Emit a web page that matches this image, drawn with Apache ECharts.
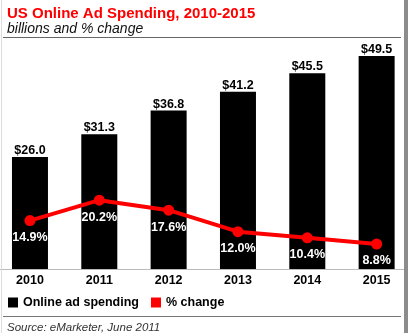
<!DOCTYPE html>
<html>
<head>
<meta charset="utf-8">
<script src="https://cdn.jsdelivr.net/npm/echarts@6/dist/echarts.min.js"></script>
<style>
  html, body { margin: 0; padding: 0; background: #fff; overflow: hidden; width: 408px; height: 333px; }
  /* canvas is 10px wider than the page so the outer bars can sit flush with the edges */
  #chart { position: absolute; left: -5px; top: 0; width: 418px; height: 333px; }
</style>
</head>
<body>
<div id="chart"></div>
<script>
// US online ad spending (billions) and year-over-year % change
const years = ['2010', '2011', '2012', '2013', '2014', '2015'];
const spending = [26.0, 31.3, 36.8, 41.2, 45.5, 49.5];
const pctChange = [14.9, 20.2, 17.6, 12.0, 10.4, 8.8];

const FONT = '"Liberation Sans", Arial, sans-serif';
const RED = '#ff0000';
const DX = 5; // horizontal shift of the canvas relative to the page

const chart = echarts.init(document.getElementById('chart'), null, { renderer: 'canvas' });

chart.setOption({
  animation: false,
  backgroundColor: '#fff',
  title: [
    {
      text: 'US Online Ad Spending, 2010-2015',
      left: 2 + DX, top: 1,
      textStyle: { color: RED, fontFamily: FONT, fontWeight: 'bold', fontSize: 15 }
    },
    {
      text: 'billions and % change',
      left: 2 + DX, top: 17,
      textStyle: { color: '#111', fontFamily: FONT, fontStyle: 'italic', fontWeight: 'normal', fontSize: 14 }
    },
    {
      text: 'Source: eMarketer, June 2011',
      left: 2 + DX, top: 317,
      textStyle: { color: '#333', fontFamily: FONT, fontStyle: 'italic', fontWeight: 'normal', fontSize: 11.5 }
    }
  ],
  legend: {
    left: 3 + DX, top: 291,
    itemWidth: 10, itemHeight: 10, itemGap: 12,
    icon: 'rect',
    textStyle: { color: '#000', fontFamily: FONT, fontWeight: 'bold', fontSize: 12.5 },
    data: ['Online ad spending', '% change']
  },
  grid: { left: 0.3, right: 1.7, top: 45.2, bottom: 64, containLabel: false },
  xAxis: {
    type: 'category',
    data: years,
    axisLine: { show: true, lineStyle: { color: '#bbb', width: 1 } },
    axisTick: { show: false },
    axisLabel: { color: '#000', fontFamily: FONT, fontWeight: 'bold', fontSize: 12.5, margin: 5 }
  },
  yAxis: [
    { type: 'value', min: 0, max: 52, show: false, splitLine: { show: false } },
    { type: 'value', min: 2.3, max: 60.5, show: false, splitLine: { show: false } }
  ],
  series: [
    {
      name: 'Online ad spending',
      type: 'bar',
      data: spending,
      barWidth: 36,
      itemStyle: { color: '#000' },
      label: {
        show: true, position: 'top', distance: 0,
        color: '#000', fontFamily: FONT, fontWeight: 'bold', fontSize: 12.5,
        formatter: p => '$' + p.value.toFixed(1)
      }
    },
    {
      name: '% change',
      type: 'line',
      yAxisIndex: 1,
      data: pctChange,
      symbol: 'circle', symbolSize: 11,
      lineStyle: { color: RED, width: 4 },
      itemStyle: { color: RED },
      label: {
        show: true, position: 'bottom', distance: 5,
        color: '#fff', fontFamily: FONT, fontWeight: 'bold', fontSize: 12.5,
        formatter: p => p.value.toFixed(1) + '%'
      },
      z: 5
    }
  ],
  graphic: [
    // rule under the subtitle
    { type: 'line', shape: { x1: 3 + DX, y1: 37.5, x2: 401 + DX, y2: 37.5 }, style: { stroke: '#666', lineWidth: 1 } },
    // rule above the source note
    { type: 'line', shape: { x1: 3 + DX, y1: 316.5, x2: 401 + DX, y2: 316.5 }, style: { stroke: '#777', lineWidth: 1 } },
    // frame edges
    { type: 'line', shape: { x1: 1.5 + DX, y1: 0, x2: 1.5 + DX, y2: 333 }, style: { stroke: '#ddd', lineWidth: 1 }, z: 10 },
    { type: 'rect', shape: { x: 404 + DX, y: 0, width: 4, height: 333 }, style: { fill: '#8c8c8c' }, z: 10 }
  ]
});
</script>
</body>
</html>
